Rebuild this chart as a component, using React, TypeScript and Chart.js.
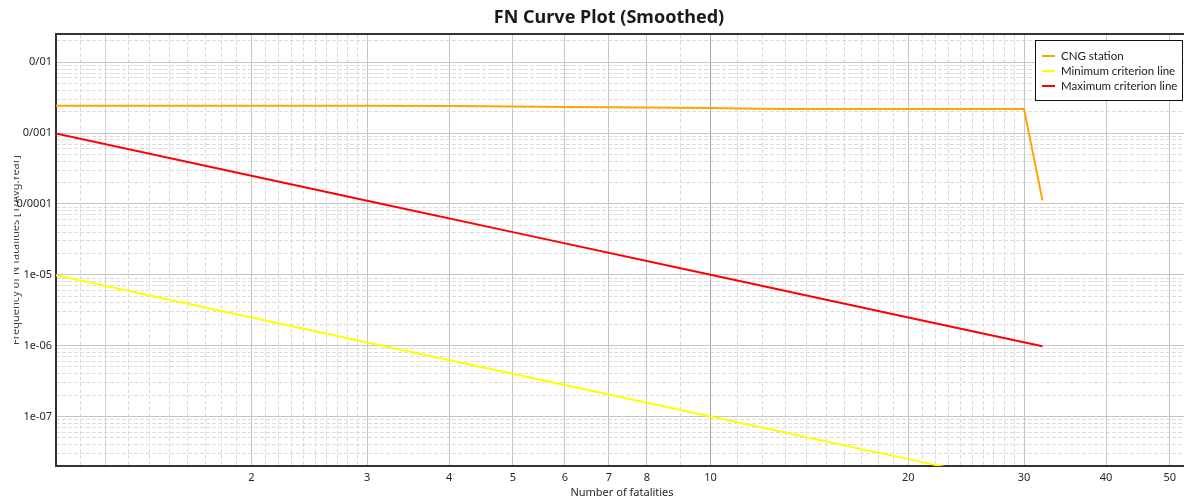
import React, { useEffect, useRef } from "react";
import { Chart, registerables } from "chart.js";

Chart.register(...registerables);

// ---- text ----
const chartTitle = "FN Curve Plot (Smoothed)";
const xAxisTitle = "Number of fatalities";
const yAxisTitle = "Frequency of N fatalities [1/Avg.Year]";

// ---- series ----
const seriesLabels = ["CNG station", "Minimum criterion line", "Maximum criterion line"];
const seriesColors = ["#FFA500", "#FFFF00", "#FF0000"];

const cngN = [1, 2, 3, 4, 5, 6, 7, 8, 9, 10, 11, 12, 13, 14, 20, 30, 32];
const cngFreq = [
  2.43e-3, 2.43e-3, 2.42e-3, 2.4e-3, 2.37e-3, 2.34e-3, 2.31e-3, 2.29e-3, 2.27e-3,
  2.25e-3, 2.22e-3, 2.2e-3, 2.19e-3, 2.18e-3, 2.18e-3, 2.18e-3, 1.12e-4,
];

const minN = [1, 2, 3, 5, 10, 20, 32];
const minFreq = [1e-5, 2.5e-6, 1.11e-6, 4e-7, 1e-7, 2.5e-8, 9.77e-9];

const maxN = [1, 2, 3, 5, 10, 20, 32];
const maxFreq = [1e-3, 2.5e-4, 1.11e-4, 4e-5, 1e-5, 2.5e-6, 9.77e-7];

// ---- axes ----
const xMin = 1.008;
const xMax = 53.3;
const yMin = 2e-8;
const yMax = 0.025;

const xTickValues = [1.2, 2, 3, 4, 5, 6, 7, 8, 10, 20, 30, 40, 50];
const xTickLabels = ["", "2", "3", "4", "5", "6", "7", "8", "10", "20", "30", "40", "50"];
const xMinorValues = [
  1.1, 1.3, 1.4, 1.5, 1.6, 1.7, 1.8, 1.9,
  2.1, 2.2, 2.3, 2.4, 2.5, 2.6, 2.7, 2.8, 2.9,
  9, 11, 12, 13, 14, 15, 16, 17, 18, 19,
  21, 22, 23, 24, 25, 26, 27, 28, 29,
];
const yTickValues = [1e-7, 1e-6, 1e-5, 1e-4, 1e-3, 1e-2];
const yTickLabels = ["1e-07", "1e-06", "1e-05", "0/0001", "0/001", "0/01"];
const yMinorMantissas = [2, 3, 4, 5, 6, 7, 8, 9];
const yMinorDecades = [1e-8, 1e-7, 1e-6, 1e-5, 1e-4, 1e-3, 1e-2];

const FONT = '"Noto Sans", "Open Sans", sans-serif';
const LEGEND_FONT = 'Lato, "Noto Sans", sans-serif';

function labelFor(values: number[], labels: string[], v: number): string {
  for (let i = 0; i < values.length; i++) {
    if (Math.abs(v - values[i]) <= values[i] * 1e-6) return labels[i];
  }
  return "";
}

const boxLegendPlugin = {
  id: "boxLegend",
  afterDraw(chart: any) {
    const { ctx, chartArea } = chart;
    const w = 148;
    const h = 61;
    const x = chartArea.right - 5 - w;
    const y = chartArea.top + 6;
    ctx.save();
    ctx.fillStyle = "#ffffff";
    ctx.fillRect(x, y, w, h);
    ctx.strokeStyle = "#111111";
    ctx.lineWidth = 1;
    ctx.strokeRect(Math.round(x) + 0.5, Math.round(y) + 0.5, w - 1, h - 1);
    ctx.font = `11.5px ${LEGEND_FONT}`;
    ctx.textBaseline = "middle";
    ctx.textAlign = "left";
    chart.data.datasets.forEach((ds: any, i: number) => {
      const cy = y + 16 + i * 15;
      ctx.beginPath();
      ctx.strokeStyle = ds.borderColor;
      ctx.lineWidth = 2;
      ctx.moveTo(x + 7, cy);
      ctx.lineTo(x + 20, cy);
      ctx.stroke();
      ctx.fillStyle = "#1a1a1a";
      ctx.fillText(ds.label, x + 26, cy);
    });
    ctx.restore();
  },
};

const yTitlePlugin = {
  id: "yTitleClip",
  afterDraw(chart: any) {
    const { ctx, chartArea } = chart;
    ctx.save();
    ctx.beginPath();
    ctx.rect(14, 0, 40, chart.height);
    ctx.clip();
    ctx.translate(19, (chartArea.top + chartArea.bottom) / 2);
    ctx.rotate(-Math.PI / 2);
    ctx.font = `11px ${FONT}`;
    ctx.fillStyle = "#444444";
    ctx.textAlign = "center";
    ctx.textBaseline = "alphabetic";
    ctx.fillText(yAxisTitle, 0, 0);
    ctx.restore();
  },
};

export default function App() {
  const ref = useRef<HTMLCanvasElement | null>(null);

  useEffect(() => {
    if (!ref.current) return;
    const minorDash = [4, 2];
    const minorColor = "#dcdcdc";
    const yMinorValues: number[] = [];
    yMinorDecades.forEach((d) =>
      yMinorMantissas.forEach((m) => {
        const v = m * d;
        if (v > yMin && v < yMax) yMinorValues.push(v);
      })
    );
    const xMinorInRange = xMinorValues.filter((v) => v > xMin && v < xMax);

    const chart = new Chart(ref.current, {
      type: "line",
      data: {
        datasets: [
          {
            label: seriesLabels[0],
            data: cngN.map((n, i) => ({ x: n, y: cngFreq[i] })),
            borderColor: seriesColors[0],
            backgroundColor: seriesColors[0],
          },
          {
            label: seriesLabels[1],
            data: minN.map((n, i) => ({ x: n, y: minFreq[i] })),
            borderColor: seriesColors[1],
            backgroundColor: seriesColors[1],
          },
          {
            label: seriesLabels[2],
            data: maxN.map((n, i) => ({ x: n, y: maxFreq[i] })),
            borderColor: seriesColors[2],
            backgroundColor: seriesColors[2],
          },
        ],
      },
      plugins: [boxLegendPlugin, yTitlePlugin],
      options: {
        animation: false,
        responsive: false,
        maintainAspectRatio: false,
        devicePixelRatio: 1,
        layout: { padding: 0 },
        elements: {
          point: { radius: 0, hoverRadius: 0 },
          line: { borderWidth: 2, tension: 0 },
        },
        plugins: {
          legend: { display: false },
          tooltip: { enabled: false },
          title: {
            display: true,
            text: chartTitle,
            color: "#1a1a1a",
            font: { family: FONT, size: 18, weight: "bold" },
            padding: { top: 7, bottom: 5.4 },
          },
        },
        scales: {
          x: {
            type: "logarithmic",
            position: "bottom",
            min: xMin,
            max: xMax,
            afterBuildTicks: (s: any) => {
              s.ticks = xTickValues.map((v) => ({ value: v }));
            },
            afterFit: (s: any) => {
              s.height = 33;
            },
            ticks: {
              autoSkip: false,
              maxRotation: 0,
              padding: 5,
              color: "#262626",
              font: { family: FONT, size: 11 },
              callback: (v: any) => labelFor(xTickValues, xTickLabels, Number(v)),
            },
            grid: {
              drawTicks: false,
              lineWidth: 1,
              color: (c: any) =>
                c.tick && c.tick.value === 10
                  ? "#a6a6a6"
                  : c.tick && c.tick.value === 1.2
                  ? "#d2d2d2"
                  : "#c6c6c6",
            },
            border: { display: true, color: "#333333", width: 2 },
            title: {
              display: true,
              text: xAxisTitle,
              color: "#262626",
              font: { family: FONT, size: 11 },
              padding: { top: 0, bottom: 0 },
            },
          },
          xMinor: {
            type: "logarithmic",
            position: "top",
            min: xMin,
            max: xMax,
            afterBuildTicks: (s: any) => {
              s.ticks = xMinorInRange.map((v) => ({ value: v }));
            },
            afterFit: (s: any) => {
              s.height = 0;
            },
            ticks: { display: false },
            grid: { drawTicks: false, color: minorColor, lineWidth: 1, z: -2 },
            border: { display: true, color: "#333333", width: 2, dash: minorDash },
          },
          y: {
            type: "logarithmic",
            position: "left",
            min: yMin,
            max: yMax,
            afterBuildTicks: (s: any) => {
              s.ticks = yTickValues.map((v) => ({ value: v }));
            },
            afterFit: (s: any) => {
              s.width = 56;
            },
            ticks: {
              autoSkip: false,
              padding: 4,
              color: "#262626",
              font: { family: FONT, size: 11 },
              callback: (v: any) => labelFor(yTickValues, yTickLabels, Number(v)),
            },
            grid: { drawTicks: false, lineWidth: 1, color: "#c6c6c6" },
            border: { display: true, color: "#333333", width: 2 },
          },
          yMinor: {
            type: "logarithmic",
            position: "right",
            min: yMin,
            max: yMax,
            afterBuildTicks: (s: any) => {
              s.ticks = yMinorValues.map((v) => ({ value: v }));
            },
            afterFit: (s: any) => {
              s.width = 30;
            },
            ticks: { display: false },
            grid: { drawTicks: false, color: minorColor, lineWidth: 1, z: -2 },
            border: { display: false, dash: minorDash },
          },
        },
      } as any,
    });
    return () => chart.destroy();
  }, []);

  return (
    <div
      style={{
        position: "fixed",
        left: 0,
        top: 0,
        width: 1184,
        height: 499,
        overflow: "hidden",
        background: "#ffffff",
      }}
    >
      <canvas ref={ref} width={1218} height={499} style={{ display: "block" }} />
    </div>
  );
}
